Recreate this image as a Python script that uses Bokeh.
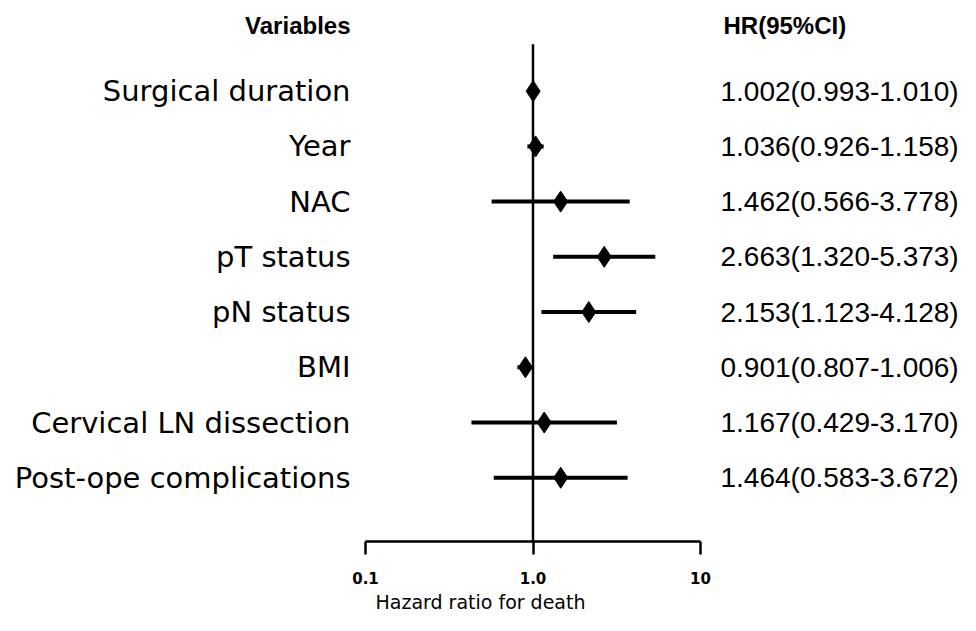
from bokeh.plotting import figure
from bokeh.models import Range1d, FixedTicker, ColumnDataSource
from bokeh.embed import file_html
from bokeh.resources import INLINE
from bokeh.core.properties import value

# ---------------- data ----------------
variables = ["Surgical duration", "Year", "NAC", "pT status", "pN status",
             "BMI", "Cervical LN dissection", "Post-ope complications"]
hr = [1.002, 1.036, 1.462, 2.663, 2.153, 0.901, 1.167, 1.464]
ci_low = [0.993, 0.926, 0.566, 1.320, 1.123, 0.807, 0.429, 0.583]
ci_high = [1.010, 1.158, 3.778, 5.373, 4.128, 1.006, 3.170, 3.672]
hr_labels = ["1.002(0.993-1.010)", "1.036(0.926-1.158)", "1.462(0.566-3.778)",
             "2.663(1.320-5.373)", "2.153(1.123-4.128)", "0.901(0.807-1.006)",
             "1.167(0.429-3.170)", "1.464(0.583-3.672)"]
tick_values = [0.1, 1, 10]
tick_labels = ["0.1", "1.0", "10"]
header_left = "Variables"
header_right = "HR(95%CI)"
x_title = "Hazard ratio for death"

# ---------------- layout ----------------
W, H = 960, 615
PX_PER_DECADE = 167.5
X_AT_01 = 365.0          # screen x of 0.1
FRAME_BOTTOM = 543.0
ROW0_Y = 91.0
ROW_STEP = 55.43

x_start = 10 ** (-1 - X_AT_01 / PX_PER_DECADE)
x_end = 10 ** (-1 + (W - X_AT_01) / PX_PER_DECADE)
y_top = -ROW0_Y / ROW_STEP
y_bottom = (FRAME_BOTTOM - ROW0_Y) / ROW_STEP

p = figure(width=W, height=H, x_axis_type="log", y_axis_location=None,
           x_range=Range1d(x_start, x_end), y_range=Range1d(y_bottom, y_top),
           output_backend="svg", toolbar_location=None,
           min_border_left=0, min_border_right=0, min_border_top=0, min_border_bottom=0)
p.outline_line_color = None
p.xgrid.visible = False
p.ygrid.visible = False
p.background_fill_color = "white"

rows = list(range(len(variables)))
src = ColumnDataSource(dict(y=rows, var=variables, hr=hr, lo=ci_low, hi=ci_high, lab=hr_labels))

# reference line at HR = 1
p.segment(x0=[1], y0=[(44 - ROW0_Y) / ROW_STEP], x1=[1], y1=[y_bottom],
          line_color="black", line_width=2.5)

# confidence intervals
p.segment(x0="lo", y0="y", x1="hi", y1="y", source=src, line_color="black", line_width=4)
# point estimates
p.scatter(x="hr", y="y", source=src, marker="diamond", size=21,
          fill_color="black", line_color="black")

# variable names
p.text(x=0.1, y="y", text="var", source=src, x_offset=-15,
       text_align="right", text_baseline="middle",
       text_font=value("DejaVu Sans"), text_font_size="29px", text_color="black")
# HR text
p.text(x=10, y="y", text="lab", source=src, x_offset=20,
       text_align="left", text_baseline="middle",
       text_font=value("Liberation Sans"), text_font_size="28px", text_color="black")

# headers
head_y = (25 - ROW0_Y) / ROW_STEP
p.text(x=[0.1], y=[head_y], text=[header_left], x_offset=-15,
       text_align="right", text_baseline="middle",
       text_font=value("Liberation Sans"), text_font_style="bold",
       text_font_size="24px", text_color="black")
p.text(x=[10], y=[head_y], text=[header_right], x_offset=23,
       text_align="left", text_baseline="middle",
       text_font=value("Liberation Sans"), text_font_style="bold",
       text_font_size="24px", text_color="black")

# x axis
ax = p.xaxis[0]
ax.ticker = FixedTicker(ticks=tick_values)
ax.major_label_overrides = {v: l for v, l in zip(tick_values, tick_labels)}
ax.bounds = (tick_values[0], tick_values[-1])
ax.minor_tick_line_color = None
ax.major_tick_in = 0
ax.major_tick_out = 13
ax.major_tick_line_width = 2.5
ax.axis_line_width = 2.5
ax.axis_line_color = "black"
ax.major_tick_line_color = "black"
ax.major_label_standoff = 17
ax.major_label_text_font = "DejaVu Sans"
ax.major_label_text_font_style = "bold"
ax.major_label_text_font_size = "15px"
ax.major_label_text_color = "black"
ax.axis_label = x_title
ax.axis_label_standoff = 4
ax.axis_label_text_font = "DejaVu Sans"
ax.axis_label_text_font_style = "normal"
ax.axis_label_text_font_size = "19px"
ax.axis_label_text_color = "black"

open("out.html", "w").write(file_html(p, INLINE))
